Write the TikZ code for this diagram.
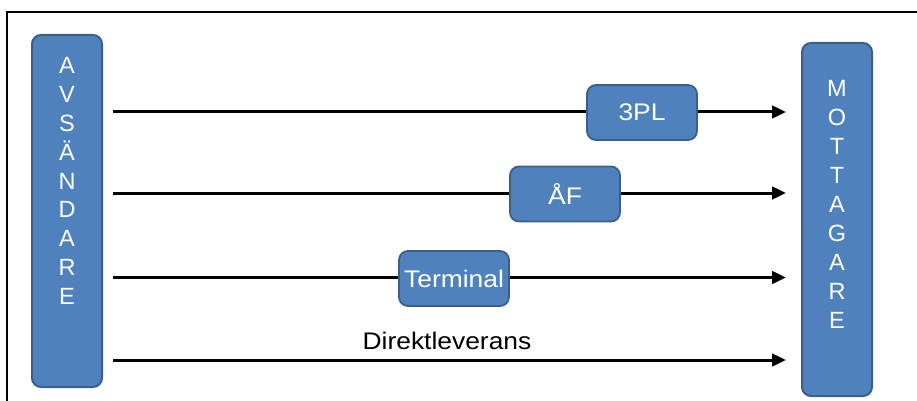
\documentclass[tikz,border=0pt]{standalone}
\usepackage{fontspec}
\setmainfont{Liberation Sans}
\usetikzlibrary{arrows.meta}
\definecolor{boxfill}{HTML}{4F81BD}
\definecolor{boxline}{HTML}{3A5F8B}
\newcommand\widetext[1]{\scalebox{1.1}[1]{#1}}
\begin{document}
\begin{tikzpicture}[x=1pt,y=-1pt,
  party/.style={draw=boxline, line width=2pt, fill=boxfill, rounded corners=9pt,
    minimum width=70pt, inner sep=0pt},
  hub/.style={draw=boxline, line width=1.8pt, fill=boxfill, rounded corners=9pt,
    minimum width=110pt, minimum height=55pt, inner sep=0pt, text=white,
    font=\fontsize{24}{28}\selectfont},
  letter/.style={text=white, font=\fontsize{23.5}{26}\selectfont, anchor=base, inner sep=0pt},
  flow/.style={line width=3pt, -{Triangle[length=14pt,width=12.5pt]},
    shorten <=10pt, shorten >=15pt},
  caption/.style={font=\fontsize{24}{28}\selectfont, inner sep=0pt}]
\useasboundingbox (0,0) rectangle (917,401);

% outer frame (open to the right and bottom)
\draw[line width=1.5pt] (7,401) -- (7,12) -- (917,12);

% sender and receiver columns
\node[party, minimum height=352pt] (avs) at (67,211) {};
\node[party, minimum height=353pt] (mot) at (837,219.5) {};
\foreach \ch [count=\i from 0] in {A,V,S,Ä,N,D,A,R,E}
  \node[letter] (avs\i) at (67,65.5+28.8*\i+8.4) {\ch};
\foreach \ch [count=\i from 0] in {M,O,T,T,A,G,A,R,E}
  \node[letter] (mot\i) at (837,88+29*\i+8.4) {\ch};

% flow rows
\coordinate (r1) at (0,112);
\coordinate (r2) at (0,193);
\coordinate (r3) at (0,277.5);
\coordinate (r4) at (0,360);
\foreach \r in {r1,r2,r3,r4}
  \draw[flow] (avs.east |- \r) -- (mot.west |- \r);

% intermediaries
\node[hub] (tpl) at (642,112.5) {\widetext{3PL}};
\node[hub] (af) at (565,194) {\widetext{ÅF}};
\node[hub] (term) at (454,278.5) {\widetext{Terminal}};
\node[caption] (direkt) at (447,341) {\widetext{Direktleverans}};
\end{tikzpicture}
\end{document}
